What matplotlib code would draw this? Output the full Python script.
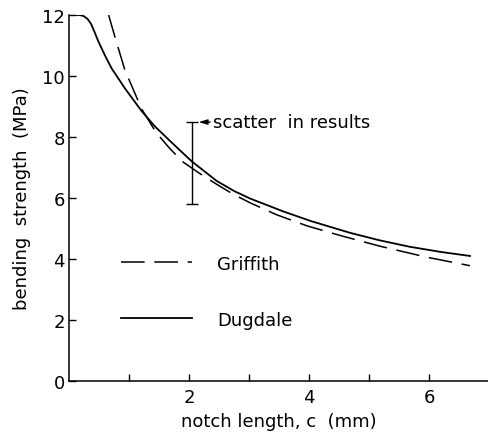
import matplotlib
matplotlib.use("Agg")
import matplotlib.pyplot as plt

# values
dugdale_c = [0.0, 0.1, 0.17, 0.24, 0.31, 0.37, 0.43, 0.49, 0.6, 0.71, 0.93, 1.21, 1.43,
             1.71, 2.04, 2.46, 2.75, 3.02, 3.57, 4.02, 4.68, 5.18, 5.68, 6.2, 6.68]
dugdale_s = [12.0, 12.0, 12.0, 11.97, 11.87, 11.7, 11.42, 11.13, 10.67, 10.25, 9.6,
             8.85, 8.35, 7.82, 7.21, 6.56, 6.23, 5.98, 5.56, 5.25, 4.86, 4.61, 4.4,
             4.23, 4.1]
griffith_c = [0.66, 0.77, 0.93, 1.21, 1.45, 1.68, 1.9, 2.18, 2.46, 2.73, 3.02, 3.46,
              3.96, 4.52, 5.18, 5.96, 6.68]
griffith_s = [12.0, 11.25, 10.2, 8.92, 8.15, 7.62, 7.18, 6.8, 6.45, 6.13, 5.84, 5.45,
              5.09, 4.77, 4.42, 4.06, 3.78]

scatter_c = 2.05
scatter_lo = 5.8
scatter_hi = 8.49

x_ticks = [1, 2, 3, 4, 5, 6]
x_labels = ["", "2", "", "4", "", "6"]
y_ticks = [0, 2, 4, 6, 8, 10, 12]

plt.rcParams["font.family"] = "DejaVu Sans"
plt.rcParams["lines.scale_dashes"] = False

fig = plt.figure(figsize=(4.88, 4.35), dpi=100)
ax = fig.add_axes([0.1414, 0.1218, 0.8586, 0.8414])

ax.plot(griffith_c, griffith_s, color="black", lw=1.1, dashes=(17, 7), label="Griffith")
ax.plot(dugdale_c, dugdale_s, color="black", lw=1.3, label="Dugdale")

# error bar for experimental scatter
half = (scatter_hi - scatter_lo) / 2
ax.errorbar([scatter_c], [scatter_lo + half], yerr=[[half], [half]],
            fmt="none", ecolor="black", elinewidth=1.0, capsize=4.5, capthick=1.0)
ax.annotate("scatter  in results", xy=(scatter_c + 0.11, scatter_hi),
            xytext=(2.4, scatter_hi), ha="left", va="center", fontsize=13,
            arrowprops=dict(arrowstyle="-|>,head_length=0.4,head_width=0.12",
                            color="black", lw=0.9, shrinkA=0, shrinkB=0))

ax.set_xlim(0, 6.98)
ax.set_ylim(0, 12)
ax.set_xticks(x_ticks)
ax.set_xticklabels(x_labels)
ax.set_yticks(y_ticks)
ax.tick_params(direction="in", length=5, width=1, labelsize=13, pad=5)
ax.tick_params(axis="y", pad=3)
for side in ("top", "right"):
    ax.spines[side].set_visible(False)
for side in ("left", "bottom"):
    ax.spines[side].set_linewidth(1.1)

ax.set_xlabel("notch length, c  (mm)", fontsize=13, labelpad=4)
ax.set_ylabel("bending  strength  (MPa)", fontsize=13, labelpad=8)

ax.legend(loc="upper left", bbox_to_anchor=(0.125, 0.345), frameon=False,
          fontsize=13, handlelength=3.9, handletextpad=1.4, labelspacing=2.1,
          borderpad=0, borderaxespad=0)

fig.savefig("out.png", dpi=100)
